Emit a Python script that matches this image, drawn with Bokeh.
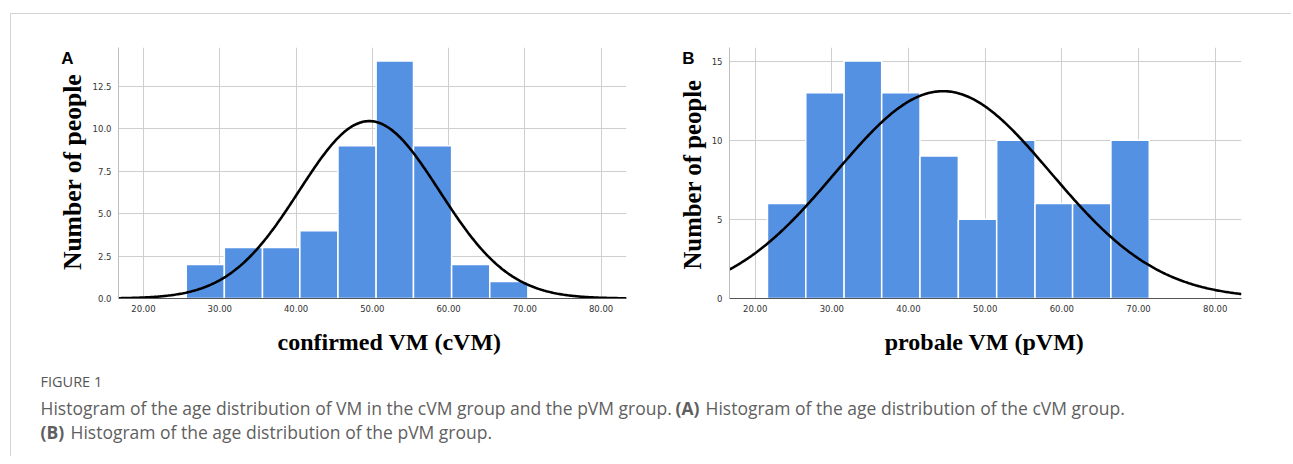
import numpy as np
from bokeh.plotting import figure
from bokeh.models import Range1d, FixedTicker, Label
from bokeh.core.properties import value
from bokeh.layouts import row, column
from bokeh.embed import file_html
from bokeh.resources import INLINE

# ---------------- data ----------------
a_edges = [25.6, 30.6, 35.6, 40.5, 45.5, 50.5, 55.4, 60.4, 65.4, 70.4]
a_counts = [2, 3, 3, 4, 9, 14, 9, 2, 1]
a_mean, a_sd, a_peak = 49.6, 9.2, 10.46

b_edges = [21.6, 26.6, 31.6, 36.5, 41.5, 46.5, 51.5, 56.5, 61.4, 66.4, 71.4]
b_counts = [6, 13, 15, 13, 9, 5, 10, 6, 6, 10]
b_mean, b_sd, b_peak = 44.5, 14.05, 13.1

x_ticks = [20, 30, 40, 50, 60, 70, 80]
x_tick_labels = ["20.00", "30.00", "40.00", "50.00", "60.00", "70.00", "80.00"]
a_y_ticks = [0, 2.5, 5, 7.5, 10, 12.5]
a_y_tick_labels = ["0.0", "2.5", "5.0", "7.5", "10.0", "12.5"]
b_y_ticks = [0, 5, 10, 15]
b_y_tick_labels = ["0", "5", "10", "15"]

a_xlabel = "confirmed VM (cVM)"
b_xlabel = "probale VM (pVM)"
ylabel = "Number of people"

caption_head = "FIGURE 1"
cap_l1_a = "Histogram of the age distribution of VM in the cVM group and the pVM group."
cap_l1_b = "(A)"
cap_l1_c = "Histogram of the age distribution of the cVM group."
cap_l2_a = "(B)"
cap_l2_b = "Histogram of the age distribution of the pVM group."

BAR = "#5591e3"
GRID = "#cfcfcf"
TOP, FH, BOT = 33, 251, 20
ROW_H = TOP + FH + BOT
OX, OY = 11, 14          # page offset of the layout content


def style_blank(f):
    f.outline_line_color = None
    f.grid.visible = False
    f.background_fill_color = "white"
    f.border_fill_color = "white"
    return f


def blank(width, height):
    f = figure(width=width, height=height, x_range=Range1d(0, width),
               y_range=Range1d(height, 0), x_axis_type=None, y_axis_type=None,
               output_backend="svg", toolbar_location=None, min_border=0)
    return style_blank(f)


def strip(x0, width, letter, lx, ly, ylx, yly, ysize):
    # frame aligned with the neighbouring panel; ranges in page pixels
    s = figure(width=width, height=ROW_H,
               x_range=Range1d(x0, x0 + width),
               y_range=Range1d(OY + TOP + FH, OY + TOP),
               x_axis_type=None, y_axis_type=None, output_backend="svg",
               toolbar_location=None, min_border_left=0, min_border_right=0,
               min_border_top=TOP, min_border_bottom=BOT)
    style_blank(s)
    s.text(x=[lx], y=[ly], text=[letter], text_font=value("Liberation Sans"),
           text_font_style="bold", text_font_size="17px",
           text_align="center", text_baseline="middle", text_color="black")
    s.add_layout(Label(x=ylx, y=yly, text=ylabel, angle=np.pi / 2,
                       text_font="Liberation Serif", text_font_style="bold",
                       text_font_size=ysize, text_align="center",
                       text_baseline="middle", text_color="black"))
    return s


def panel(edges, counts, mean, sd, peak, xr, yr, yticks, ylabels, fw, mbl, mbr):
    p = figure(frame_width=fw, frame_height=FH,
               x_range=Range1d(*xr), y_range=Range1d(*yr),
               output_backend="svg", toolbar_location=None,
               min_border_left=mbl, min_border_right=mbr,
               min_border_top=TOP, min_border_bottom=BOT)
    p.outline_line_color = None
    p.background_fill_color = "white"
    p.border_fill_color = "white"

    p.quad(left=edges[:-1], right=edges[1:], top=counts, bottom=0,
           fill_color=BAR, line_color="white", line_width=1.5)

    xs = np.linspace(xr[0], xr[1], 400)
    ys = peak * np.exp(-0.5 * ((xs - mean) / sd) ** 2)
    p.line(xs, ys, line_color="black", line_width=2.6)

    p.xaxis.ticker = FixedTicker(ticks=x_ticks)
    p.xaxis.major_label_overrides = {float(t): l for t, l in zip(x_ticks, x_tick_labels)}
    p.yaxis.ticker = FixedTicker(ticks=yticks)
    p.yaxis.major_label_overrides = {float(t): l for t, l in zip(yticks, ylabels)}
    p.xgrid.ticker = FixedTicker(ticks=x_ticks)
    p.ygrid.ticker = FixedTicker(ticks=yticks)
    for g in (p.xgrid, p.ygrid):
        g.grid_line_color = GRID
        g.grid_line_width = 1

    for ax in (p.xaxis, p.yaxis):
        ax.major_tick_out = 0
        ax.major_tick_in = 0
        ax.minor_tick_out = 0
        ax.minor_tick_in = 0
        ax.major_label_text_font = "DejaVu Sans"
        ax.major_label_text_font_size = "8.5px"
        ax.major_label_text_color = "#333333"
    p.xaxis.axis_line_color = "#555555"
    p.yaxis.axis_line_color = "#bdbdbd"
    p.xaxis.major_label_standoff = 6
    p.yaxis.major_label_standoff = 7
    return p


sA = strip(11, 77, "A", 67, 58, 72, 171.5, "25.6px")
pA = panel(a_edges, a_counts, a_mean, a_sd, a_peak,
           (16.72, 83.33), (0, 14.8), a_y_ticks, a_y_tick_labels, 508, 30, 54)
sB = strip(680, 28, "B", 688, 58, 692, 174, "24.8px")
pB = panel(b_edges, b_counts, b_mean, b_sd, b_peak,
           (16.65, 83.43), (0, 15.86), b_y_ticks, b_y_tick_labels, 512, 21, 20)

# ---------------- x-axis titles ----------------
W = 1250
xl = blank(W, 44)
for xc, t in ((378, a_xlabel), (973, b_xlabel)):
    xl.add_layout(Label(x=xc, y=23, text=t, text_font="Liberation Serif",
                        text_font_style="bold", text_font_size="24px",
                        text_align="center", text_baseline="middle",
                        text_color="black"))

# ---------------- caption ----------------
cap = blank(W, 94)
CAPC = "#5f5f5f"
FONT = "Open Sans"


def cl(x, y, t, size="17.5px", bold=False, color=CAPC):
    cap.add_layout(Label(x=x, y=y, text=t, text_font=FONT, text_font_size=size,
                         text_font_style="bold" if bold else "normal",
                         text_color=color, text_baseline="middle", text_align="left"))


cl(29, 19, caption_head, size="14.5px", color="#555555")
cl(29, 45, cap_l1_a)
cl(664, 45, cap_l1_b, bold=True)
cl(694, 45, cap_l1_c)
cl(29, 69, cap_l2_a, bold=True)
cl(59, 69, cap_l2_b)

layout = column(row(sA, pA, sB, pB), xl, cap,
                styles={"border-left": "1px solid #d4d4d4",
                        "border-top": "1px solid #d4d4d4",
                        "margin-left": "10px", "margin-top": "13px",
                        "padding-right": "30px"})

open("out.html", "w").write(file_html(layout, INLINE))
